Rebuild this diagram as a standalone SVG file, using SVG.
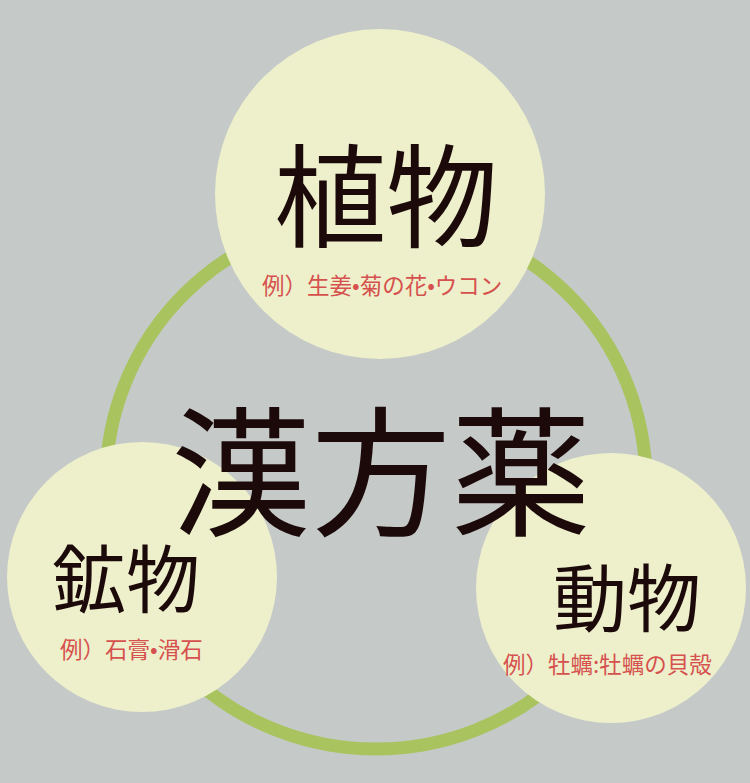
<svg xmlns="http://www.w3.org/2000/svg" width="750" height="783" viewBox="0 0 750 783">
<style>
.bg{fill:#c5c9c8}
.ring{fill:none;stroke:#a9c45f;stroke-width:13}
.node{fill:#edf0cb}
.title{font-family:"Noto Sans CJK JP","Noto Sans CJK SC",sans-serif;fill:#1c0a0a}
.ex{font-family:"Noto Sans CJK JP","Noto Sans CJK SC",sans-serif;fill:#d6514e;font-size:22.5px}
</style>
<rect class="bg" x="0" y="0" width="750" height="783"/>
<g id="connectors">
<ellipse class="ring" cx="376" cy="482" rx="270" ry="267"/>
</g>
<g id="node-plant">
<circle class="node" cx="380" cy="194" r="165"/>
<text class="title" x="386" y="239" font-size="112" text-anchor="middle">植物</text>
<text class="ex" x="262" y="294">例）生姜•菊の花•ウコン</text>
</g>
<g id="node-mineral">
<circle class="node" cx="142" cy="577" r="135"/>
<text class="title" x="126" y="607" font-size="74" text-anchor="middle">鉱物</text>
<text class="ex" x="60" y="658">例）石膏•滑石</text>
</g>
<g id="node-animal">
<circle class="node" cx="611" cy="588" r="135"/>
<text class="title" x="627" y="626" font-size="74" text-anchor="middle">動物</text>
<text class="ex" x="503" y="673">例）牡蠣:牡蠣の貝殻</text>
</g>
<g id="node-center">
<text class="title" x="381" y="525" font-size="140" text-anchor="middle">漢方薬</text>
</g>
</svg>
